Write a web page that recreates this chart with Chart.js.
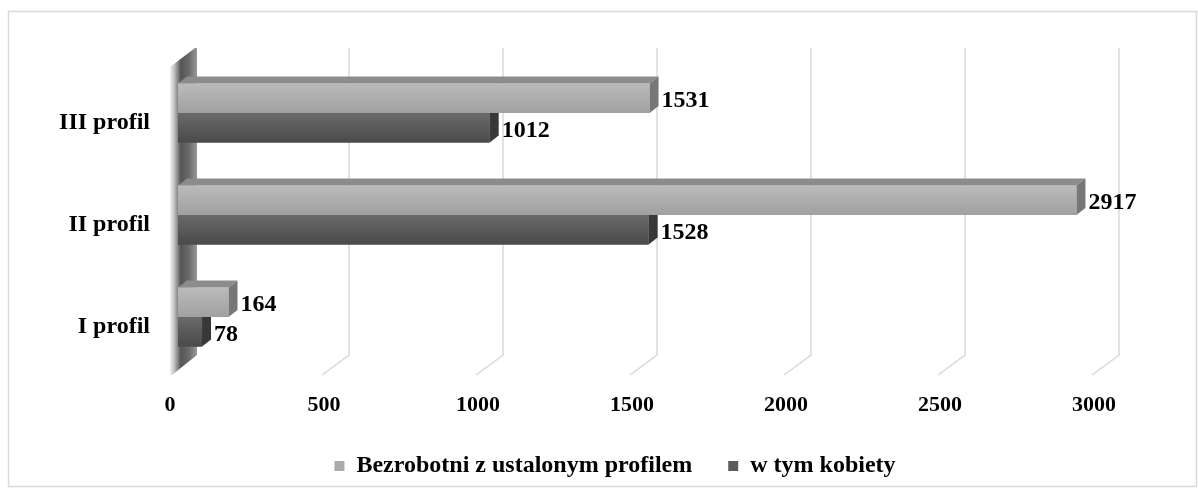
<!DOCTYPE html>
<html>
<head>
<meta charset="utf-8">
<script src="https://cdn.jsdelivr.net/npm/chart.js@4/dist/chart.umd.min.js"></script>
<style>
  html, body { margin: 0; padding: 0; background: #fff; }
  #wrap { width: 1198px; height: 488px; }
</style>
</head>
<body>
<div id="wrap"><canvas id="barChart" width="1198" height="488"></canvas></div>
<script>
const categories = ["III profil", "II profil", "I profil"];
const bezrobotni = [1531, 2917, 164];
const kobiety = [1012, 1528, 78];
const xTicks = [0, 500, 1000, 1500, 2000, 2500, 3000];

const SERIF = "'Liberation Serif', 'Times New Roman', serif";
const DEPTH_X = 9, DEPTH_Y = 7;

// outer frame
const framePlugin = {
    id: 'frame',
    beforeDraw(chart) {
        const c = chart.ctx;
        c.save();
        c.fillStyle = '#fff';
        c.fillRect(0, 0, chart.width, chart.height);
        c.strokeStyle = '#d9d9d9';
        c.lineWidth = 1.5;
        c.strokeRect(8.5, 11.5, 1188, 475);
        c.restore();
    }
};

// back wall gridlines + left wall
const wallPlugin = {
    id: 'wall',
    beforeDatasetsDraw(chart) {
        const c = chart.ctx;
        const x = chart.scales.x;
        const a = chart.chartArea;
        c.save();
        c.strokeStyle = '#d9d9d9';
        c.lineWidth = 1.5;
        xTicks.forEach(v => {
            if (v === 0) return;
            const xb = x.getPixelForValue(v) + 17;
            c.beginPath();
            c.moveTo(xb, a.top - 14);
            c.lineTo(xb, a.bottom - 13);
            c.lineTo(xb - 27, a.bottom + 7);
            c.stroke();
        });
        // left wall
        const x0 = x.getPixelForValue(0);
        const fx = x0 - 8, bx = x0 + 19;
        const g = c.createLinearGradient(fx, 0, bx, 0);
        g.addColorStop(0, '#f2f2f2');
        g.addColorStop(0.15, '#c4c4c4');
        g.addColorStop(0.4, '#555');
        g.addColorStop(0.7, '#6a6a6a');
        g.addColorStop(1, '#999');
        c.fillStyle = g;
        c.beginPath();
        c.moveTo(fx, a.top + 5);
        c.lineTo(bx - 2, a.top - 14);
        c.lineTo(bx, a.top - 14);
        c.lineTo(bx, a.bottom - 13);
        c.lineTo(fx + 2, a.bottom + 7);
        c.lineTo(fx, a.bottom + 7);
        c.closePath();
        c.fill();
        c.restore();
    }
};

function drawBox(c, bar, front, frontDark, topCol, sideCol) {
    const xs = bar.base, xe = bar.x;
    const top = bar.y - bar.height / 2, bot = bar.y + bar.height / 2;
    // top face
    c.fillStyle = topCol;
    c.beginPath();
    c.moveTo(xs, top);
    c.lineTo(xs + DEPTH_X, top - DEPTH_Y);
    c.lineTo(xe + DEPTH_X, top - DEPTH_Y);
    c.lineTo(xe, top);
    c.closePath();
    c.fill();
    // side face
    c.fillStyle = sideCol;
    c.beginPath();
    c.moveTo(xe, top);
    c.lineTo(xe + DEPTH_X, top - DEPTH_Y);
    c.lineTo(xe + DEPTH_X, bot - DEPTH_Y);
    c.lineTo(xe, bot);
    c.closePath();
    c.fill();
    // front face
    const g = c.createLinearGradient(0, top, 0, bot);
    g.addColorStop(0, front);
    g.addColorStop(1, frontDark);
    c.fillStyle = g;
    c.fillRect(xs, top, xe - xs, bot - top);
}

// 3d shading of bars + value labels
const boxPlugin = {
    id: 'box3d',
    afterDatasetsDraw(chart) {
        const c = chart.ctx;
        const light = chart.getDatasetMeta(0).data;
        const dark = chart.getDatasetMeta(1).data;
        c.save();
        categories.forEach((cat, i) => {
            drawBox(c, dark[i], '#6a6a6a', '#4a4a4a', '#7a7a7a', '#383838');
            drawBox(c, light[i], '#bbbbbb', '#a0a0a0', '#8c8c8c', '#777777');
        });
        c.fillStyle = '#000';
        c.font = 'bold 24px ' + SERIF;
        c.textBaseline = 'middle';
        c.textAlign = 'left';
        [[light, bezrobotni], [dark, kobiety]].forEach(([els, vals]) => {
            els.forEach((el, i) => {
                c.fillText(String(vals[i]), el.x + DEPTH_X + 3, el.y + 3);
            });
        });
        c.restore();
    }
};

const CHART = document.getElementById('barChart');
let barChart = new Chart(CHART, {
    type: 'bar',
    data: {
        labels: categories,
        datasets: [
            {
                label: "Bezrobotni z ustalonym profilem",
                data: bezrobotni,
                backgroundColor: "#ababab",
                borderWidth: 0,
                categoryPercentage: 0.58,
                barPercentage: 1.0,
            },
            {
                label: "w tym kobiety",
                data: kobiety,
                backgroundColor: "#5c5c5c",
                borderWidth: 0,
                categoryPercentage: 0.58,
                barPercentage: 1.0,
            }
        ]
    },
    options: {
        indexAxis: 'y',
        responsive: false,
        animation: false,
        layout: { padding: { top: 62, right: 0, bottom: 0, left: 32 } },
        scales: {
            x: {
                min: 0,
                max: 3000,
                grid: { display: false, drawTicks: false },
                border: { display: false },
                afterBuildTicks: scale => { scale.ticks = xTicks.map(v => ({ value: v })); },
                afterFit: scale => { scale.height = 50; },
                ticks: {
                    color: '#000',
                    padding: 26,
                    labelOffset: -8,
                    maxRotation: 0,
                    callback: v => v,
                    font: { family: SERIF, size: 22, weight: 'bold', lineHeight: 1 }
                }
            },
            y: {
                grid: { display: false, drawTicks: false },
                border: { display: false },
                afterFit: scale => { scale.width = 146; },
                ticks: {
                    color: '#000',
                    padding: 28,
                    labelOffset: 10,
                    font: { family: SERIF, size: 24, weight: 'bold' }
                }
            },
            yRight: {
                type: 'linear',
                position: 'right',
                display: true,
                grid: { display: false },
                border: { display: false },
                ticks: { display: false },
                afterFit: scale => { scale.width = 96; }
            }
        },
        plugins: {
            legend: {
                position: 'bottom',
                labels: {
                    color: '#000',
                    boxWidth: 10,
                    boxHeight: 10,
                    padding: 36,
                    font: { family: SERIF, size: 24, weight: 'bold', lineHeight: 1 }
                }
            },
            tooltip: { enabled: false }
        }
    },
    plugins: [framePlugin, wallPlugin, boxPlugin]
});
</script>
</body>
</html>
